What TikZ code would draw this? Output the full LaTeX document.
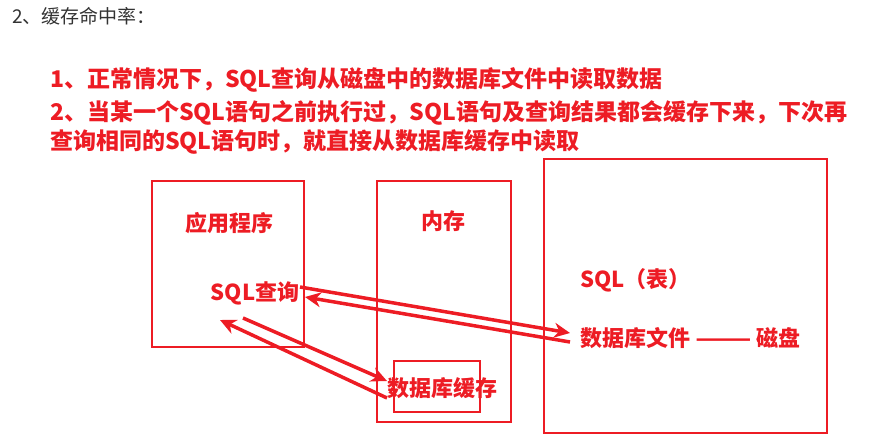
\documentclass[tikz,border=0pt]{standalone}
\usepackage{fontspec}
\setmainfont{Noto Sans CJK SC}
\usetikzlibrary{arrows.meta}
\definecolor{mkred}{RGB}{237,28,36}
\definecolor{mkgray}{RGB}{51,51,51}

\begin{document}
\begin{tikzpicture}[x=1pt,y=-1pt,
    box/.style={draw=mkred, line width=2.5pt, inner sep=0pt},
    lbl/.style={text=mkred, font=\fontsize{22}{26}\selectfont\bfseries, inner sep=0pt},
    note/.style={text=mkred, font=\fontsize{23}{27}\selectfont\bfseries, inner sep=0pt, anchor=west},
    arr/.style={draw=mkred, line width=3.5pt, -{Stealth[length=16pt,width=15pt]}}]
  \useasboundingbox (0,0) rectangle (896,446);

  % heading and notes
  \node[anchor=west, inner sep=0pt, text=mkgray, font=\fontsize{19}{23}\selectfont] (head) at (12,16) {2、缓存命中率：};
  \node[note] (n1) at (50,80) {1、正常情况下，SQL查询从磁盘中的数据库文件中读取数据};
  \node[note] (n2) at (50,113) {2、当某一个SQL语句之前执行过，SQL语句及查询结果都会缓存下来，下次再};
  \node[note] (n3) at (50,142) {查询相同的SQL语句时，就直接从数据库缓存中读取};

  % boxes
  \node[box, minimum width=152, minimum height=166] (app) at (228,264) {};
  \node[box, minimum width=134, minimum height=241] (mem) at (444,301.5) {};
  \node[box, minimum width=86, minimum height=51] (cache) at (437,386.5) {};
  \node[box, minimum width=283, minimum height=274] (disk) at (685.5,296) {};

  % labels
  \node[lbl] (apptitle) at (229,223) {应用程序};
  \node[lbl] (memtitle) at (443,221) {内存};
  \node[lbl] (sqlq) at (255,293) {SQL查询};
  \node[lbl] (cachetxt) at (442,388) {数据库缓存};
  \node[lbl, anchor=west] (table) at (580,280) {SQL（表）};
  \node[lbl, anchor=west] (file) at (580,338) {数据库文件 \scalebox{1.5}[1]{——} 磁盘};

  % arrows
  \coordinate (a1) at (300,287); \coordinate (a2) at (570,333);
  \coordinate (b1) at (570,342); \coordinate (b2) at (305,297);
  \coordinate (c1) at (243,318); \coordinate (c2) at (387,381);
  \coordinate (d1) at (387,398); \coordinate (d2) at (220,320);
  \draw[arr] (a1) -- (a2);
  \draw[arr] (b1) -- (b2);
  \draw[arr] (c1) -- (c2);
  \draw[arr] (d1) -- (d2);
\end{tikzpicture}
\end{document}
